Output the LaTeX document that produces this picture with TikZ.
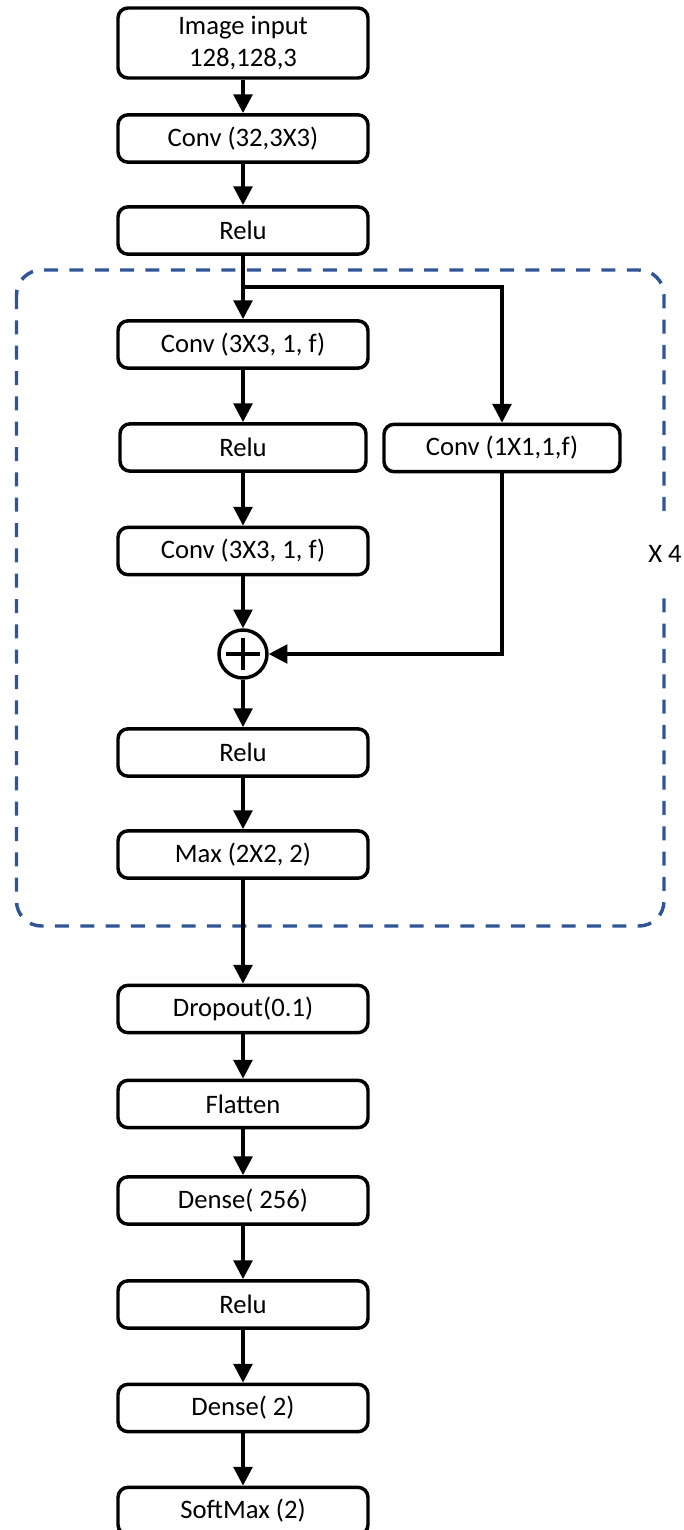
\documentclass[tikz,border=0pt]{standalone}
\usepackage{fontspec}
\setmainfont{Carlito}
\usetikzlibrary{arrows.meta,calc}
\definecolor{dashblue}{HTML}{2F5597}
\tikzset{
  blk/.style={draw=black, line width=2.6pt, rounded corners=7.5pt, fill=white,
    minimum width=187.5pt, minimum height=35.5pt, inner sep=0pt,
    font=\fontsize{20}{24}\selectfont, align=center},
  conn/.style={draw=black, line width=2.6pt},
  arr/.style={conn, -{Triangle[width=14pt,length=14pt]}},
  dashbox/.style={draw=dashblue, line width=2.6pt, rounded corners=18.75pt,
    dash pattern=on 10.5pt off 8.5pt},
  lbl/.style={font=\fontsize{20}{24}\selectfont, fill=white, inner sep=0pt,
    minimum height=50pt, minimum width=24pt}
}
\begin{document}
\begin{tikzpicture}[x=0.75pt, y=-0.75pt]
\useasboundingbox (0,0) rectangle (683,1530);
% dashed repeat block
\draw[dashbox] (16.5,270) rectangle (664,926);
\node[lbl] (rep) at (665,554) {X 4};
% nodes
\node[blk, minimum height=52.5pt] (in) at (243,43) {Image input\\128,128,3};
\node[blk] (c1) at (243,138.5) {Conv (32,3X3)};
\node[blk] (r1) at (243,230.5) {Relu};
\node[blk] (c2) at (243,344.5) {Conv (3X3, 1, f)};
\node[blk, minimum width=184.5pt] (r2) at (243,447.5) {Relu};
\node[blk, minimum width=177pt] (c3) at (502,448) {Conv (1X1,1,f)};
\node[blk] (c4) at (243,551) {Conv (3X3, 1, f)};
\node[draw=black, line width=2.6pt, circle, minimum size=36pt, inner sep=0pt] (plus) at (243,654) {};
\draw[line width=2.6pt] ($(plus.center)+(-17,0)$) -- ($(plus.center)+(17,0)$);
\draw[line width=2.6pt] ($(plus.center)+(0,-16)$) -- ($(plus.center)+(0,16)$);
\node[blk] (r3) at (243,752.5) {Relu};
\node[blk] (mx) at (243,854.5) {Max (2X2, 2)};
\node[blk] (d1) at (243,1009) {Dropout(0.1)};
\node[blk] (fl) at (243,1104) {Flatten};
\node[blk] (d2) at (243,1200.5) {Dense( 256)};
\node[blk] (r4) at (243,1304.5) {Relu};
\node[blk] (d3) at (243,1408) {Dense( 2)};
\node[blk] (sm) at (243,1511) {SoftMax (2)};
\coordinate (br) at (243,287);
% connectors
\draw[arr] (in) -- (c1);
\draw[arr] (c1) -- (r1);
\draw[arr] (r1) -- (c2);
\draw[arr] (br) -| (c3.north);
\draw[arr] (c2) -- (r2);
\draw[arr] (r2) -- (c4);
\draw[arr] (c4) -- (plus);
\draw[arr] (c3.south) |- (plus.east);
\draw[arr] (plus) -- (r3);
\draw[arr] (r3) -- (mx);
\draw[arr] (mx) -- (d1);
\draw[arr] (d1) -- (fl);
\draw[arr] (fl) -- (d2);
\draw[arr] (d2) -- (r4);
\draw[arr] (r4) -- (d3);
\draw[arr] (d3) -- (sm);
\end{tikzpicture}
\end{document}
